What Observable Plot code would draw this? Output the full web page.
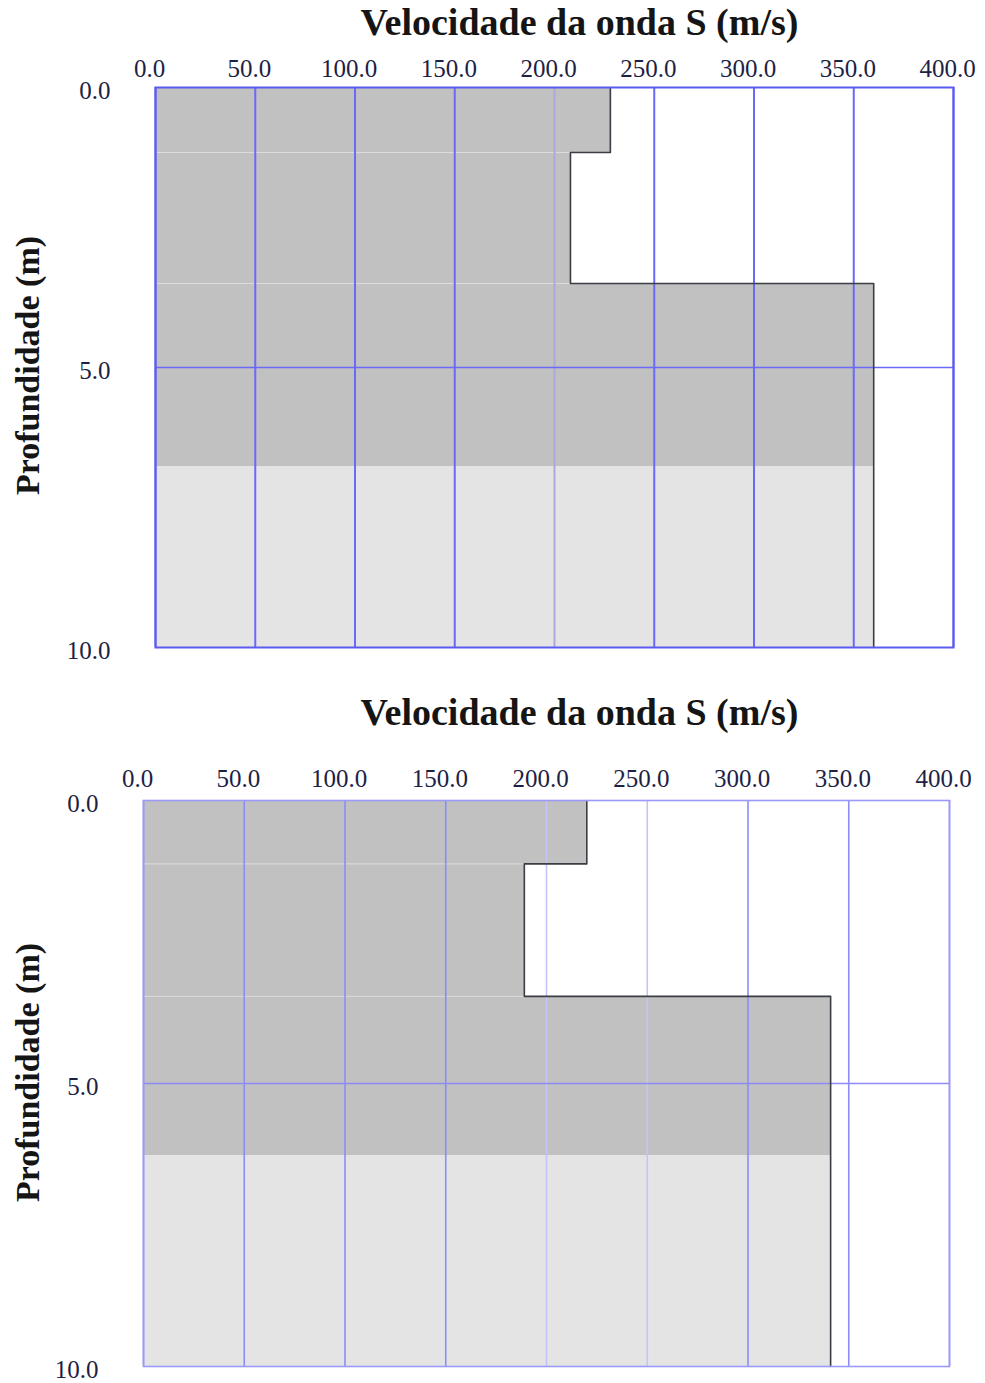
<!DOCTYPE html>
<html>
<head>
<meta charset="utf-8">
<script src="https://cdn.jsdelivr.net/npm/d3@7"></script>
<script src="https://cdn.jsdelivr.net/npm/@observablehq/plot@0.6"></script>
<style>
  html, body { margin: 0; padding: 0; background: #fff; }
  #charts svg { display: block; }
</style>
</head>
<body>
<div id="charts"></div>
<script>
// ---- data ----
const xTitle = "Velocidade da onda S (m/s)";
const yTitle = "Profundidade (m)";
const xTicks = [0, 50, 100, 150, 200, 250, 300, 350, 400];
const yTicks = [0, 5, 10];

// Panel 1 layers
const top1 = [0, 1.16, 3.5];
const bottom1 = [1.16, 3.5, 10];
const vs1 = [228, 208, 360];
const fillSplit1 = 6.77;

// Panel 2 layers
const top2 = [0, 1.12, 3.46];
const bottom2 = [1.12, 3.46, 10];
const vs2 = [220, 189, 341];
const fillSplit2 = 6.27;

function buildRects(tops, bots, vs, split) {
  const out = [];
  tops.forEach((t, i) => {
    const b = bots[i], v = vs[i];
    if (b <= split) out.push({y1: t, y2: b, v, tone: "dark"});
    else if (t >= split) out.push({y1: t, y2: b, v, tone: "light"});
    else {
      out.push({y1: t, y2: split, v, tone: "dark"});
      out.push({y1: split, y2: b, v, tone: "light"});
    }
  });
  return out;
}
function buildLine(tops, bots, vs) {
  return tops.flatMap((t, i) => [{x: vs[i], y: t}, {x: vs[i], y: bots[i]}]);
}
function buildBoundaries(tops, vs) {
  return tops.slice(1).map((t, i) => ({y: t, x2: Math.min(vs[i], vs[i + 1])}));
}

function panel(opts) {
  const {tops, bots, vs, split, height, mt, mb, ml, mr, gridStroke, gridFaint, faintTicks, frameStroke, gridWidth, titleDy, titleDx, yLabelDx, yLabelDy, xPad} = opts;
  const rects = buildRects(tops, bots, vs, split);
  return Plot.plot({
    width: 985,
    height,
    marginTop: mt, marginBottom: mb, marginLeft: ml, marginRight: mr,
    style: {fontFamily: "'Liberation Serif', 'DejaVu Serif', serif", background: "#fff"},
    x: {domain: [0, 400], axis: null},
    y: {domain: [0, 10], reverse: true, axis: null},
    marks: [
      Plot.rect(rects, {x1: 0, x2: "v", y1: "y1", y2: "y2", fill: d => d.tone === "dark" ? "#c0c1c0" : "#e4e4e4", inset: 0, shapeRendering: "crispEdges"}),
      Plot.ruleY(buildBoundaries(tops, vs), {y: "y", x1: 0, x2: "x2", stroke: "#ffffff", strokeOpacity: 0.45, strokeWidth: 1}),
      Plot.ruleX(xTicks, {stroke: d => faintTicks.includes(d) ? gridFaint : gridStroke, strokeWidth: gridWidth}),
      Plot.ruleY([5], {stroke: gridStroke, strokeWidth: 1.5}),
      Plot.line(buildLine(tops, bots, vs), {x: "x", y: "y", stroke: "#3a3d44", strokeWidth: 1.6}),
      Plot.frame({stroke: frameStroke, strokeWidth: gridWidth}),
      Plot.axisX({anchor: "top", ticks: xTicks, tickFormat: d => d.toFixed(1), tickSize: 0, tickPadding: xPad, fontSize: 25, fill: "#1d1f45", dx: -6, label: null}),
      Plot.axisY({ticks: yTicks, tickFormat: d => d.toFixed(1), tickSize: 0, tickPadding: 45, fontSize: 25, fill: "#1d1f45", dy: 3, label: null}),
      Plot.text([xTitle], {frameAnchor: "top", lineAnchor: "middle", textAnchor: "middle", dy: titleDy, dx: titleDx, fontSize: 38, fontWeight: "bold", fill: "#151515"}),
      Plot.text([yTitle], {frameAnchor: "left", lineAnchor: "middle", textAnchor: "middle", rotate: -90, dx: yLabelDx, dy: yLabelDy, fontSize: 34, fontWeight: "bold", fill: "#151515"})
    ]
  });
}

const el = document.getElementById("charts");
el.append(panel({
  tops: top1, bots: bottom1, vs: vs1, split: fillSplit1,
  height: 680, mt: 87, mb: 33, ml: 155, mr: 32,
  gridStroke: "#6a6afa", gridFaint: "#a9a9dc", faintTicks: [200], frameStroke: "#5b5bf0", gridWidth: 2,
  titleDy: -65, titleDx: 25, yLabelDx: -127, yLabelDy: -2, xPad: 11
}));
el.append(panel({
  tops: top2, bots: bottom2, vs: vs2, split: fillSplit2,
  height: 703, mt: 120, mb: 17, ml: 143, mr: 36,
  gridStroke: "#8c8cf6", gridFaint: "#c4c4fb", faintTicks: [200, 250], frameStroke: "#9a9af8", gridWidth: 1.6,
  titleDy: -88, titleDx: 33, yLabelDx: -115, yLabelDy: -11, xPad: 14
}));
</script>
</body>
</html>
